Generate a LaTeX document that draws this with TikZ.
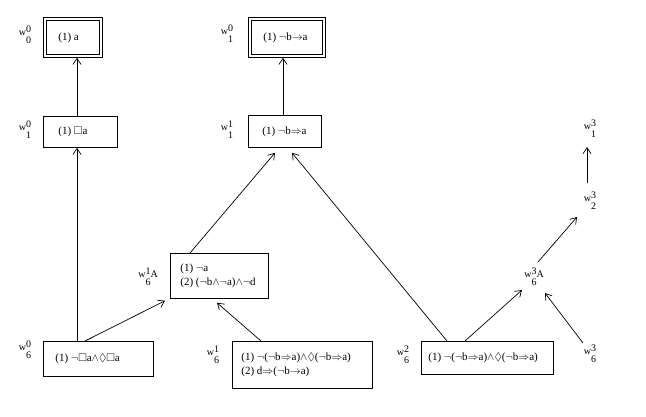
\documentclass[tikz,border=0pt]{standalone}
\usepackage{amssymb}
\usepackage{fontspec}
\setmainfont{Liberation Serif}
\usetikzlibrary{arrows.meta,calc}
\newcommand{\wlab}[2]{w\raisebox{-8pt}{\fontsize{10}{11}\selectfont\begin{tabular}[b]{@{}l@{}}#1\\#2\end{tabular}}}
\newcommand{\bt}[2]{\makebox[#1][l]{\begin{tabular}{@{}l@{}}#2\end{tabular}}}
\tikzset{
  box/.style={draw, line width=0.8pt, rectangle, inner ysep=0pt, font=\fontsize{11}{14}\selectfont, anchor=north west},
  lab/.style={inner sep=0pt, font=\fontsize{10}{11}\selectfont},
  arr/.style={line width=0.7pt, -{Straight Barb[length=6pt,width=8pt]}},
}
\begin{document}
\begin{tikzpicture}[x=1pt,y=-1pt]
\useasboundingbox (0,0) rectangle (646,416);
% boxes
\node[box, minimum width=59, minimum height=40, inner xsep=15] (b00) at (43,17) {\bt{29pt}{(1) a}};
\draw[line width=0.8pt] ($(b00.north west)+(3.5,3.5)$) rectangle ($(b00.south east)+(-3.5,-3.5)$);
\node[box, minimum width=77, minimum height=40, inner xsep=15] (b10) at (248,17) {\bt{47pt}{(1) $\neg$b$\to$a}};
\draw[line width=0.8pt] ($(b10.north west)+(3.5,3.5)$) rectangle ($(b10.south east)+(-3.5,-3.5)$);
\node[box, minimum width=74, minimum height=31, inner xsep=15] (b01) at (43,116) {\bt{44pt}{(1) $\Box$a}};
\node[box, minimum width=73, minimum height=32, inner xsep=14] (b11) at (248,115) {\bt{45pt}{(1) $\neg$b$\Rightarrow$a}};
\node[box, minimum width=98, minimum height=45, inner xsep=10] (b6A) at (170,253) {\bt{78pt}{(1) $\neg$a\\(2) ($\neg$b$\wedge\neg$a)$\wedge\neg$d}};
\node[box, minimum width=110, minimum height=35, inner xsep=12] (b60) at (43,341) {\bt{86pt}{(1) $\neg\Box$a$\wedge\Diamond\Box$a}};
\node[box, minimum width=140, minimum height=47, inner xsep=9] (b61) at (232,341) {\bt{122pt}{(1) $\neg$($\neg$b$\Rightarrow$a)$\wedge\Diamond$($\neg$b$\Rightarrow$a)\\(2) d$\Rightarrow$($\neg$b$\to$a)}};
\node[box, minimum width=132, minimum height=33, inner xsep=7] (b62) at (421,341) {\bt{118pt}{(1) $\neg$($\neg$b$\Rightarrow$a)$\wedge\Diamond$($\neg$b$\Rightarrow$a)}};
% labels
\node[lab] (l00) at (25,36) {\wlab{0}{0}};
\node[lab] (l01) at (25,131) {\wlab{0}{1}};
\node[lab] (l10) at (227,35) {\wlab{0}{1}};
\node[lab] (l11) at (227,131) {\wlab{1}{1}};
\node[lab] (l6A) at (148,278) {\wlab{1}{6}A};
\node[lab] (l60) at (25,351) {\wlab{0}{6}};
\node[lab] (l61) at (213,356) {\wlab{1}{6}};
\node[lab] (l62) at (403,356) {\wlab{2}{6}};
\node[lab] (l63) at (590,355) {\wlab{3}{6}};
\node[lab] (l63A) at (534,278) {\wlab{3}{6}A};
\node[lab] (l23) at (590,202) {\wlab{3}{2}};
\node[lab] (l13) at (590,130) {\wlab{3}{1}};
% arrows
\draw[arr] ($(b01.north west)+(34,0)$) -- ($(b00.south west)+(34,0)$);
\draw[arr] ($(b11.north west)+(35,0)$) -- ($(b10.south west)+(35,0)$);
\draw[arr] ($(b60.north west)+(34,0)$) -- ($(b01.south west)+(34,0)$);
\draw[arr] ($(b60.north west)+(42,0)$) -- ($(b6A.south west)+(-5,2)$);
\draw[arr] ($(b6A.north west)+(20,0)$) -- ($(b11.south west)+(27,5)$);
\draw[arr] ($(b61.north west)+(29,0)$) -- ($(b6A.south west)+(47,4)$);
\draw[arr] ($(b62.north west)+(26,0)$) -- ($(b11.south west)+(44,5)$);
\draw[arr] ($(b62.north west)+(44,0)$) -- ($(l63A.center)+(-12,12)$);
\draw[arr] ($(l63.center)+(-7,-12)$) -- ($(l63A.center)+(11,15)$);
\draw[arr] ($(l63A.center)+(4,-16)$) -- ($(l23.center)+(-13,15)$);
\draw[arr] ($(l23.center)+(-3,-19)$) -- ($(l13.center)+(-3,17)$);
\end{tikzpicture}
\end{document}
